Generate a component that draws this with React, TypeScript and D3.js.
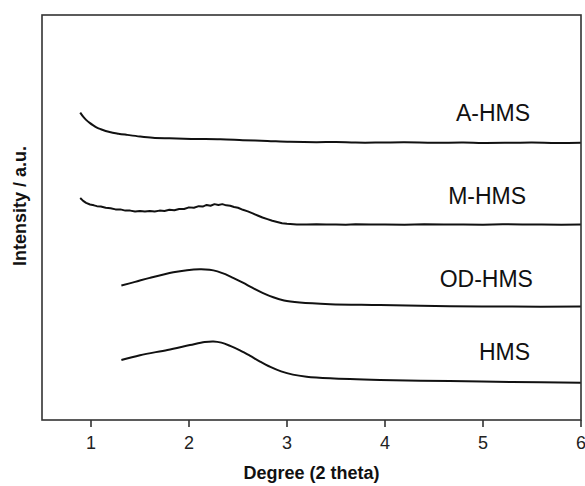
import React from "react";
import * as d3 from "d3";

// Low-angle XRD patterns, stacked with vertical offsets (a.u.)
const seriesNames = ["A-HMS", "M-HMS", "OD-HMS", "HMS"];

const aHms: [number, number][] = [
  [0.89, 75.9], [0.92, 74.9], [0.95, 74.1], [0.99, 73.3], [1.02, 72.8], [1.06, 72.2],
  [1.1, 71.8], [1.19, 71.1], [1.28, 70.7], [1.37, 70.4], [1.5, 70.0], [1.63, 69.7],
  [1.8, 69.55], [2.04, 69.4], [2.32, 69.3], [2.55, 69.1], [2.8, 68.9], [3.03, 68.7],
  [3.3, 68.6], [3.5, 68.65], [3.7, 68.5], [3.95, 68.5], [4.2, 68.55], [4.5, 68.45],
  [4.8, 68.5], [5.0, 68.4], [5.3, 68.45], [5.5, 68.5], [5.75, 68.4], [6.0, 68.45],
];

const mHms: [number, number][] = [
  [0.89, 54.8], [0.92, 54.1], [0.95, 53.6], [0.99, 53.2], [1.03, 53.0], [1.06, 52.8],
  [1.1, 52.7], [1.15, 52.4], [1.2, 52.3], [1.25, 52.0], [1.3, 52.0], [1.35, 51.7],
  [1.4, 51.7], [1.45, 51.5], [1.5, 51.6], [1.55, 51.5], [1.6, 51.6], [1.65, 51.5],
  [1.7, 51.7], [1.75, 51.6], [1.8, 51.9], [1.85, 51.8], [1.9, 52.1], [1.95, 52.1],
  [2.0, 52.5], [2.05, 52.4], [2.1, 52.8], [2.14, 52.7], [2.18, 53.1], [2.22, 52.9],
  [2.26, 53.3], [2.3, 53.1], [2.34, 53.3], [2.38, 53.0], [2.42, 52.9], [2.46, 52.6],
  [2.5, 52.4], [2.55, 51.9], [2.6, 51.5], [2.65, 51.0], [2.7, 50.5], [2.75, 50.0],
  [2.8, 49.6], [2.85, 49.2], [2.9, 48.9], [2.95, 48.6], [3.0, 48.45], [3.1, 48.3],
  [3.2, 48.25], [3.3, 48.35], [3.4, 48.25], [3.5, 48.3], [3.6, 48.2], [3.7, 48.35],
  [3.85, 48.25], [4.0, 48.3], [4.2, 48.2], [4.4, 48.35], [4.6, 48.25], [4.8, 48.3],
  [5.0, 48.2], [5.2, 48.35], [5.4, 48.25], [5.6, 48.3], [5.8, 48.2], [6.0, 48.3],
];

const odHms: [number, number][] = [
  [1.31, 33.2], [1.45, 34.1], [1.6, 35.1], [1.84, 36.5], [1.98, 37.0], [2.11, 37.2],
  [2.21, 37.1], [2.29, 36.7], [2.37, 36.0], [2.45, 35.1], [2.55, 33.9], [2.65, 32.6],
  [2.75, 31.4], [2.86, 30.3], [2.97, 29.5], [3.13, 29.0], [3.44, 28.6], [3.95, 28.4],
  [4.66, 28.1], [5.3, 28.0], [6.0, 28.0],
];

const hms: [number, number][] = [
  [1.31, 14.8], [1.5, 16.0], [1.78, 17.3], [2.01, 18.5], [2.16, 19.25], [2.25, 19.4],
  [2.33, 19.1], [2.42, 18.3], [2.52, 17.2], [2.62, 15.9], [2.72, 14.5], [2.83, 13.1],
  [2.94, 12.0], [3.06, 11.2], [3.2, 10.7], [3.44, 10.3], [3.95, 9.9], [4.66, 9.6],
  [5.3, 9.4], [6.0, 9.2],
];

const seriesData = [aHms, mHms, odHms, hms];
const xTicks = [1, 2, 3, 4, 5, 6];
const xDomain: [number, number] = [0.5, 6];
const yDomain: [number, number] = [0, 100];

const W = 585;
const H = 486;
const margin = { left: 42, right: 4, top: 15, bottom: 66 };
const FONT = "'Liberation Sans', Arial, Helvetica, sans-serif";

export default function App() {
  const x = d3.scaleLinear().domain(xDomain).range([margin.left, W - margin.right]);
  const y = d3.scaleLinear().domain(yDomain).range([H - margin.bottom, margin.top]);
  const smooth = d3
    .line<[number, number]>()
    .x((d) => x(d[0]))
    .y((d) => y(d[1]))
    .curve(d3.curveCatmullRom.alpha(0.5));
  const noisy = d3
    .line<[number, number]>()
    .x((d) => x(d[0]))
    .y((d) => y(d[1]))
    .curve(d3.curveLinear);

  const bottom = H - margin.bottom;
  // right edge of each label (degrees) and its baseline (a.u.)
  const labelPos = [
    { xEnd: 5.48, yVal: 73.9 },
    { xEnd: 5.44, yVal: 53.3 },
    { xEnd: 5.51, yVal: 32.9 },
    { xEnd: 5.48, yVal: 14.8 },
  ];

  return (
    <div style={{ position: "absolute", left: 0, top: 0 }}>
      <svg width={W} height={H} style={{ display: "block", background: "#fff" }}>
        {seriesData.map((d, i) => (
          <path
            key={seriesNames[i]}
            d={(i === 1 ? noisy(d) : smooth(d)) ?? ""}
            fill="none"
            stroke="#111"
            strokeWidth={2}
            strokeLinejoin="round"
          />
        ))}
        <rect
          x={x(xDomain[0])}
          y={margin.top}
          width={x(xDomain[1]) - x(xDomain[0])}
          height={bottom - margin.top}
          fill="none"
          stroke="#333"
          strokeWidth={1.6}
        />
        {xTicks.map((t) => (
          <g key={t} transform={`translate(${x(t)},${bottom})`}>
            <line y1={0} y2={7} stroke="#333" strokeWidth={1.6} />
            <text
              y={29}
              textAnchor="middle"
              fontFamily={FONT}
              fontSize={18}
              fill="#222"
            >
              {t}
            </text>
          </g>
        ))}
        {seriesNames.map((n, i) => (
          <text
            key={n}
            x={x(labelPos[i].xEnd)}
            y={y(labelPos[i].yVal)}
            textAnchor="end"
            fontFamily={FONT}
            fontSize={23}
            fill="#111"
          >
            {n}
          </text>
        ))}
        <text
          x={(x(xDomain[0]) + x(xDomain[1])) / 2}
          y={479}
          textAnchor="middle"
          fontFamily={FONT}
          fontSize={18}
          fontWeight="bold"
          fill="#111"
        >
          Degree (2 theta)
        </text>
        <text
          transform="translate(26,206) rotate(-90)"
          textAnchor="middle"
          fontFamily={FONT}
          fontSize={18}
          fontWeight="bold"
          fill="#111"
        >
          Intensity / a.u.
        </text>
      </svg>
    </div>
  );
}
